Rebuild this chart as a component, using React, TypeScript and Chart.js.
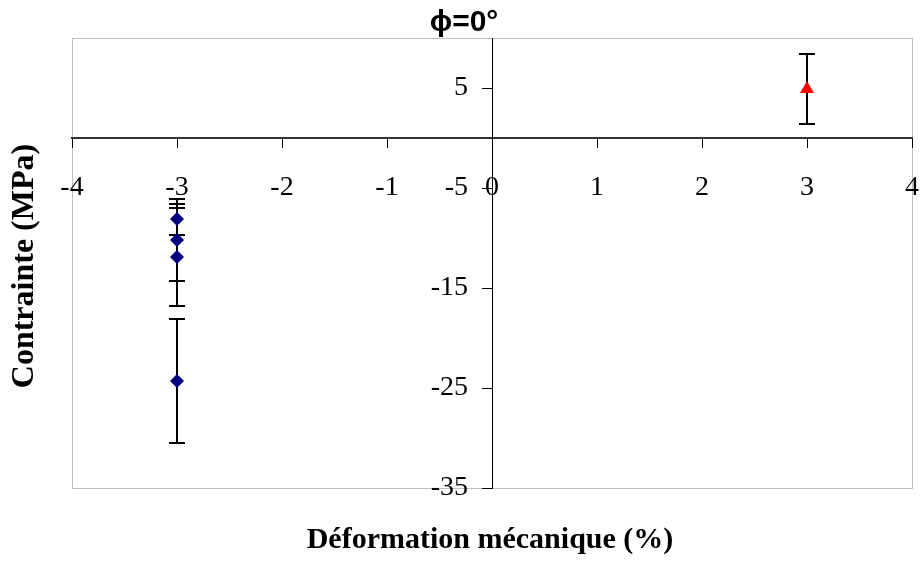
import React, { useEffect, useRef } from "react";
import { Chart, registerables } from "chart.js";

Chart.register(...registerables);

const titleText = "ϕ=0°";
const xTitle = "Déformation mécanique (%)";
const yTitle = "Contrainte (MPa)";

const xBlue = [-3, -3, -3, -3];
const yBlue = [-8.1, -10.2, -11.9, -24.3];
const errBlue = [1.55, 4.1, 4.9, 6.2];

const xRed = [3];
const yRed = [4.9];
const errRed = [3.5];

const xTicks = [-4, -3, -2, -1, 0, 1, 2, 3, 4];
const yTicks = [-35, -25, -15, -5, 5];

const serif = "'Liberation Serif', 'Times New Roman', serif";

const errorBarPlugin = {
  id: "errorBars",
  beforeDatasetsDraw(chart: any) {
    const ctx = chart.ctx;
    const xs = chart.scales.x;
    const ys = chart.scales.y;
    chart.data.datasets.forEach((ds: any) => {
      const errs = ds.errors || [];
      ds.data.forEach((p: any, i: number) => {
        const e = errs[i];
        if (e == null) return;
        const px = Math.round(xs.getPixelForValue(p.x));
        const top = Math.round(ys.getPixelForValue(p.y + e));
        const bot = Math.round(ys.getPixelForValue(p.y - e));
        ctx.save();
        ctx.strokeStyle = "#000000";
        ctx.lineWidth = 2;
        ctx.beginPath();
        ctx.moveTo(px, top);
        ctx.lineTo(px, bot);
        ctx.moveTo(px - 8, top);
        ctx.lineTo(px + 8, top);
        ctx.moveTo(px - 8, bot);
        ctx.lineTo(px + 8, bot);
        ctx.stroke();
        ctx.restore();
      });
    });
  },
};

const framePlugin = {
  id: "frameAndTitles",
  beforeDraw(chart: any) {
    const { ctx, chartArea } = chart;
    ctx.save();
    ctx.fillStyle = "#ffffff";
    ctx.fillRect(0, 0, chart.width, chart.height);
    ctx.strokeStyle = "#c0c0c0";
    ctx.lineWidth = 1;
    ctx.strokeRect(
      Math.round(chartArea.left) + 0.5,
      Math.round(chartArea.top) + 0.5,
      Math.round(chartArea.right - chartArea.left),
      Math.round(chartArea.bottom - chartArea.top)
    );
    ctx.restore();
  },
  afterDraw(chart: any) {
    const { ctx } = chart;
    const xs = chart.scales.x;
    const ys = chart.scales.y;
    const axisY = ys.getPixelForValue(0);
    const axisX = xs.getPixelForValue(0);
    ctx.save();
    ctx.fillStyle = "#000000";
    // tick labels
    ctx.font = `28px ${serif}`;
    ctx.textAlign = "center";
    ctx.textBaseline = "middle";
    xTicks.forEach((v) => {
      ctx.fillText(String(v), xs.getPixelForValue(v), axisY + 50);
    });
    ctx.textAlign = "right";
    yTicks.forEach((v) => {
      ctx.fillText(String(v), axisX - 24, ys.getPixelForValue(v));
    });
    // titles
    ctx.textAlign = "center";
    ctx.font = "bold 30px 'Liberation Sans', Arial, sans-serif";
    ctx.fillText(titleText, 464, 23);
    ctx.font = `bold 30px ${serif}`;
    ctx.fillText(xTitle, 490, 540);
    ctx.font = `bold 32px ${serif}`;
    ctx.translate(25, 266);
    ctx.rotate(-Math.PI / 2);
    ctx.fillText(yTitle, 0, 0);
    ctx.restore();
  },
};

export default function App() {
  const ref = useRef<HTMLCanvasElement | null>(null);

  useEffect(() => {
    if (!ref.current) return;
    const chart = new Chart(ref.current, {
      type: "scatter",
      data: {
        datasets: [
          {
            label: "blue",
            data: xBlue.map((x, i) => ({ x, y: yBlue[i] })),
            errors: errBlue,
            pointStyle: "rectRot",
            pointRadius: 7,
            backgroundColor: "#000080",
            borderColor: "#000080",
            borderWidth: 0,
          } as any,
          {
            label: "red",
            data: xRed.map((x, i) => ({ x, y: yRed[i] })),
            errors: errRed,
            pointStyle: "triangle",
            pointRadius: 8,
            backgroundColor: "#ff0000",
            borderColor: "#ff0000",
            borderWidth: 0,
          } as any,
        ],
      },
      options: {
        animation: false,
        responsive: false,
        maintainAspectRatio: false,
        layout: { padding: { left: 72, top: 38, right: 8, bottom: 78 } },
        plugins: {
          legend: { display: false },
          tooltip: { enabled: false },
          title: { display: false },
        },
        scales: {
          x: {
            type: "linear",
            position: { y: 0 } as any,
            min: -4,
            max: 4,
            afterBuildTicks: (axis: any) => {
              axis.ticks = xTicks.map((v) => ({ value: v }));
            },
            grid: {
              drawOnChartArea: false,
              drawTicks: true,
              tickLength: 9,
              color: "#000000",
              lineWidth: 1,
            },
            border: { display: true, color: "#333333", width: 2 },
            ticks: { display: false, autoSkip: false },
          },
          y: {
            type: "linear",
            position: { x: 0 } as any,
            min: -35,
            max: 10,
            afterBuildTicks: (axis: any) => {
              axis.ticks = yTicks.map((v) => ({ value: v }));
            },
            grid: {
              drawOnChartArea: false,
              drawTicks: true,
              tickLength: 10,
              color: "#000000",
              lineWidth: 1,
            },
            border: { display: true, color: "#000000", width: 1 },
            ticks: { display: false, autoSkip: false },
          },
        },
      },
      plugins: [framePlugin, errorBarPlugin],
    });
    return () => chart.destroy();
  }, []);

  return (
    <div style={{ position: "fixed", left: 0, top: 0, width: 920, height: 566, background: "#fff" }}>
      <canvas ref={ref} width={920} height={566} style={{ width: 920, height: 566, display: "block" }} />
    </div>
  );
}
